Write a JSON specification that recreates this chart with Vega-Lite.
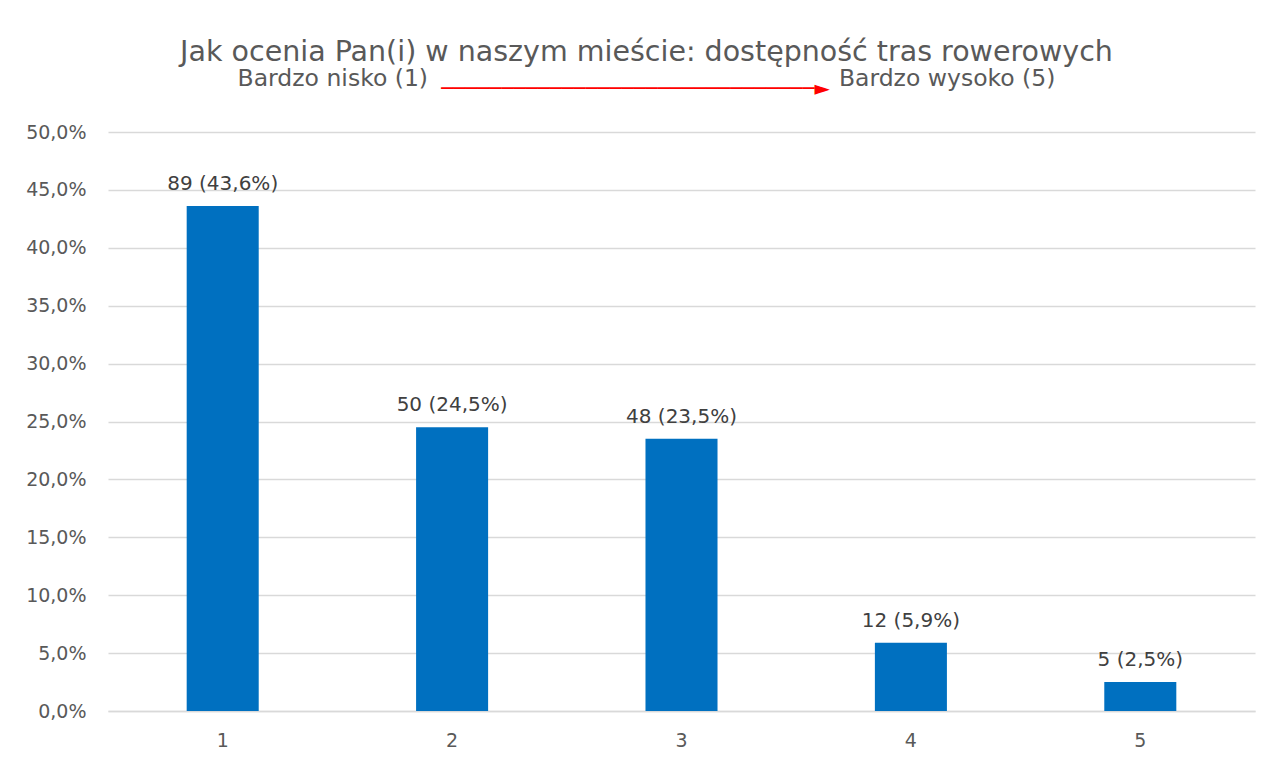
{
  "$schema": "https://vega.github.io/schema/vega-lite/v6.json",
  "width": 1147,
  "height": 579,
  "autosize": {"type": "none"},
  "padding": {"left": 108, "top": 132, "right": 19, "bottom": 54},
  "background": "white",
  "config": {
    "locale": {"number": {"decimal": ",", "thousands": " ", "grouping": [3], "currency": ["", " zł"]}},
    "view": {"stroke": null},
    "font": "DejaVu Sans"
  },
  "title": {
    "text": "Jak ocenia Pan(i) w naszym mieście: dostępność tras rowerowych",
    "subtitle": "Bardzo nisko (1)\u00a0\u00a0\u00a0\u00a0\u00a0\u00a0\u00a0\u00a0\u00a0\u00a0\u00a0\u00a0\u00a0\u00a0\u00a0\u00a0\u00a0\u00a0\u00a0\u00a0\u00a0\u00a0\u00a0\u00a0\u00a0\u00a0\u00a0\u00a0\u00a0\u00a0\u00a0\u00a0\u00a0\u00a0\u00a0\u00a0\u00a0\u00a0\u00a0\u00a0\u00a0\u00a0\u00a0\u00a0\u00a0\u00a0\u00a0\u00a0\u00a0\u00a0\u00a0\u00a0\u00a0\u00a0\u00a0Bardzo wysoko (5)",
    "anchor": "middle",
    "frame": "group",
    "dx": -35,
    "offset": -12,
    "font": "DejaVu Sans",
    "fontSize": 28.5,
    "fontWeight": "normal",
    "color": "#595959",
    "subtitleFont": "DejaVu Sans",
    "subtitleFontSize": 23.5,
    "subtitleColor": "#595959",
    "subtitlePadding": 0
  },
  "data": {
    "values": [
      {"ocena": "1", "liczba": 89, "procent": 0.436, "etykieta": "89 (43,6%)"},
      {"ocena": "2", "liczba": 50, "procent": 0.245, "etykieta": "50 (24,5%)"},
      {"ocena": "3", "liczba": 48, "procent": 0.235, "etykieta": "48 (23,5%)"},
      {"ocena": "4", "liczba": 12, "procent": 0.059, "etykieta": "12 (5,9%)"},
      {"ocena": "5", "liczba": 5, "procent": 0.025, "etykieta": "5 (2,5%)"}
    ]
  },
  "layer": [
    {
      "mark": {"type": "bar", "color": "#0070C0"},
      "encoding": {
        "x": {
          "field": "ocena",
          "type": "ordinal",
          "scale": {"paddingInner": 0.686, "paddingOuter": 0.343},
          "axis": {
            "title": null,
            "labelAngle": 0,
            "labelFontSize": 19,
            "labelColor": "#595959",
            "labelPadding": 20,
            "ticks": false,
            "domain": true,
            "domainColor": "#d9d9d9",
            "domainWidth": 1.5
          }
        },
        "y": {
          "field": "procent",
          "type": "quantitative",
          "scale": {"domain": [0, 0.5], "nice": false},
          "axis": {
            "title": null,
            "values": [0, 0.05, 0.1, 0.15, 0.2, 0.25, 0.3, 0.35, 0.4, 0.45, 0.5],
            "format": ".1%",
            "labelFontSize": 19,
            "labelColor": "#595959",
            "labelPadding": 22,
            "ticks": false,
            "domain": false,
            "grid": true,
            "gridColor": "#d9d9d9",
            "gridWidth": 1.5
          }
        }
      }
    },
    {
      "mark": {"type": "text", "fontSize": 20, "color": "#404040", "baseline": "alphabetic", "dy": -16},
      "encoding": {
        "x": {
          "field": "ocena",
          "type": "ordinal",
          "axis": {
            "orient": "top",
            "title": "───────────────────────────────►",
            "titleFont": "DejaVu Sans",
            "titleFontSize": 20,
            "titleFontWeight": "normal",
            "titleColor": "#ff0000",
            "titleX": 527,
            "titleY": -44,
            "titleAlign": "center",
            "titleBaseline": "middle",
            "labels": false,
            "ticks": false,
            "domain": false,
            "grid": false
          }
        },
        "y": {"field": "procent", "type": "quantitative"},
        "text": {"field": "etykieta"}
      }
    }
  ],
  "resolve": {"axis": {"x": "independent"}}
}
